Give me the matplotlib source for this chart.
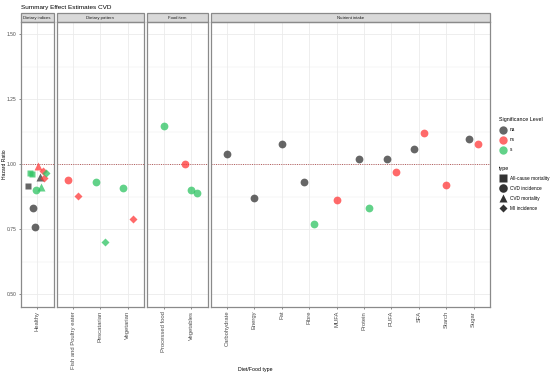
import matplotlib
matplotlib.use("Agg")
import matplotlib.pyplot as plt
from matplotlib.lines import Line2D
from matplotlib.patches import Rectangle

plt.rcParams["font.family"] = ["Liberation Sans", "DejaVu Sans"]

# --- data ---
panels = ["Dietary indices", "Dietary pattern", "Food item", "Nutrient intake"]
panel_foods = [
    ["Healthy"],
    ["Fish and Poultry eater", "Pescatarian", "Vegetarian"],
    ["Processed food", "Vegetables"],
    ["Carbohydrate", "Energy", "Fat", "Fibre", "MUFA", "Protein", "PUFA", "SFA", "Starch", "Sugar"],
]

food = ["Healthy"] * 12 + [
    "Fish and Poultry eater", "Fish and Poultry eater",
    "Pescatarian", "Pescatarian",
    "Vegetarian", "Vegetarian",
    "Processed food",
    "Vegetables", "Vegetables", "Vegetables",
    "Carbohydrate", "Energy", "Fat",
    "Fibre", "Fibre", "MUFA",
    "Protein", "Protein", "PUFA", "PUFA",
    "SFA", "SFA", "Starch", "Sugar", "Sugar",
]
hr = [0.917, 0.968, 0.965, 0.833, 0.760, 0.900, 0.994, 0.951, 0.912, 0.976, 0.948, 0.966,
      0.940, 0.880, 0.931, 0.703, 0.911, 0.790,
      1.149, 1.001, 0.902, 0.892,
      1.040, 0.871, 1.080, 0.931, 0.771, 0.862,
      1.020, 0.831, 1.020, 0.971, 1.060, 1.120, 0.921, 1.099, 1.080]
sig = ["na", "s", "s", "na", "na", "s", "ns", "na", "s", "ns", "ns", "s",
       "ns", "ns", "s", "s", "s", "ns",
       "s", "ns", "s", "s",
       "na", "na", "na", "na", "s", "ns",
       "na", "s", "na", "ns", "na", "ns", "ns", "na", "ns"]
outcome = ["All-cause mortality", "All-cause mortality", "All-cause mortality",
           "CVD incidence", "CVD incidence", "CVD incidence",
           "CVD mortality", "CVD mortality", "CVD mortality",
           "MI incidence", "MI incidence", "MI incidence",
           "CVD incidence", "MI incidence", "CVD incidence", "MI incidence",
           "CVD incidence", "MI incidence"] + ["CVD incidence"] * 19

sig_levels = ["na", "ns", "s"]
sig_colors = {"na": "#333333", "ns": "#ff3838", "s": "#2ec462"}
types = ["All-cause mortality", "CVD incidence", "CVD mortality", "MI incidence"]
type_markers = {"All-cause mortality": ("s", 5.0), "CVD incidence": ("o", 5.6),
                "CVD mortality": ("^", 5.8), "MI incidence": ("D", 3.6)}

# --- layout ---
W, H = 550, 376
fig = plt.figure(figsize=(W / 100, H / 100), dpi=100)
widths = [len(f) + 0.2 for f in panel_foods]
gs = fig.add_gridspec(1, 4, width_ratios=widths, wspace=0.026,
                      left=20.7 / W, right=490 / W, bottom=1 - 306.7 / H, top=1 - 22 / H)

grid_c = "#ebebeb"
border_c = "#8a8a8a"
dodge_w = 0.7
tick_fs = 4.2

for k, (pname, foods) in enumerate(zip(panels, panel_foods)):
    ax = fig.add_subplot(gs[0, k])
    ax.set_xlim(-0.6, len(foods) - 0.4)
    ax.set_ylim(0.453, 1.548)
    for yv in [0.5, 0.75, 1.0, 1.25, 1.5]:
        ax.axhline(yv, color=grid_c, lw=0.6, zorder=0)
    for yv in [0.625, 0.875, 1.125, 1.375]:
        ax.axhline(yv, color=grid_c, lw=0.35, zorder=0)
    for xi in range(len(foods)):
        ax.axvline(xi, color=grid_c, lw=0.6, zorder=0)
    ax.axhline(1.0, color="#b04848", lw=0.6, ls=(0, (1.2, 1.5)), zorder=1)

    for xi, f in enumerate(foods):
        idx = [i for i in range(len(food)) if food[i] == f]
        n = len(idx)
        for j, i in enumerate(idx):
            off = (j - (n - 1) / 2) * dodge_w / n
            m, ms = type_markers[outcome[i]]
            ax.plot(xi + off, hr[i], marker=m, ms=ms, color=sig_colors[sig[i]],
                    alpha=0.75, mec="none", ls="none", zorder=3)

    ax.set_xticks(range(len(foods)))
    ax.set_xticklabels(foods, rotation=90, fontsize=tick_fs, color="#4d4d4d")
    ax.tick_params(axis="both", length=1.5, width=0.4, color="#333333", pad=1.5)
    ax.set_yticks([0.5, 0.75, 1.0, 1.25, 1.5])
    if k == 0:
        ax.set_yticklabels(["0.50", "0.75", "1.00", "1.25", "1.50"], fontsize=3.6,
                           color="#4d4d4d")
    else:
        ax.tick_params(axis="y", left=False, labelleft=False)
    for s in ax.spines.values():
        s.set_color(border_c)
        s.set_linewidth(0.9)

    # facet strip
    sh = 8.7 / 284.7
    ax.add_patch(Rectangle((0, 1), 1, sh, transform=ax.transAxes, clip_on=False,
                           facecolor="#d9d9d9", edgecolor=border_c, lw=0.9))
    ax.text(0.5, 1 + sh / 2, pname, transform=ax.transAxes, ha="center", va="center",
            fontsize=3.1, color="#1a1a1a")

fig.text(20.7 / W, 1 - 7 / H, "Summary Effect Estimates CVD", fontsize=4.6,
         ha="left", va="center", color="black")
fig.text(255 / W, 1 - 369 / H, "Diet/Food type", fontsize=3.8, ha="center", va="center")
fig.text(4.5 / W, 1 - 164 / H, "Hazard Ratio", fontsize=3.6, ha="center", va="center",
         rotation=90)

# legends
sig_handles = [Line2D([], [], marker="o", ms=6.0, color=sig_colors[s], alpha=0.75,
                      mec="none", ls="none", label=s) for s in sig_levels]
leg1 = fig.legend(handles=sig_handles, title="Significance Level", loc="upper left",
                  bbox_to_anchor=(497 / W, 1 - 115 / H), frameon=False, fontsize=3.4,
                  title_fontsize=3.9, handletextpad=0.6, labelspacing=1.05,
                  borderpad=0, handlelength=1.6)
leg1._legend_box.align = "left"
type_handles = [Line2D([], [], marker=type_markers[t][0], ms=type_markers[t][1] * 1.1,
                       color="#333333", mec="none", ls="none", label=t) for t in types]
leg2 = fig.legend(handles=type_handles, title="type", loc="upper left",
                  bbox_to_anchor=(497 / W, 1 - 163.5 / H), frameon=False, fontsize=3.4,
                  title_fontsize=3.9, handletextpad=0.6, labelspacing=1.05,
                  borderpad=0, handlelength=1.6)
leg2._legend_box.align = "left"

plt.savefig("out.png", dpi=100)
